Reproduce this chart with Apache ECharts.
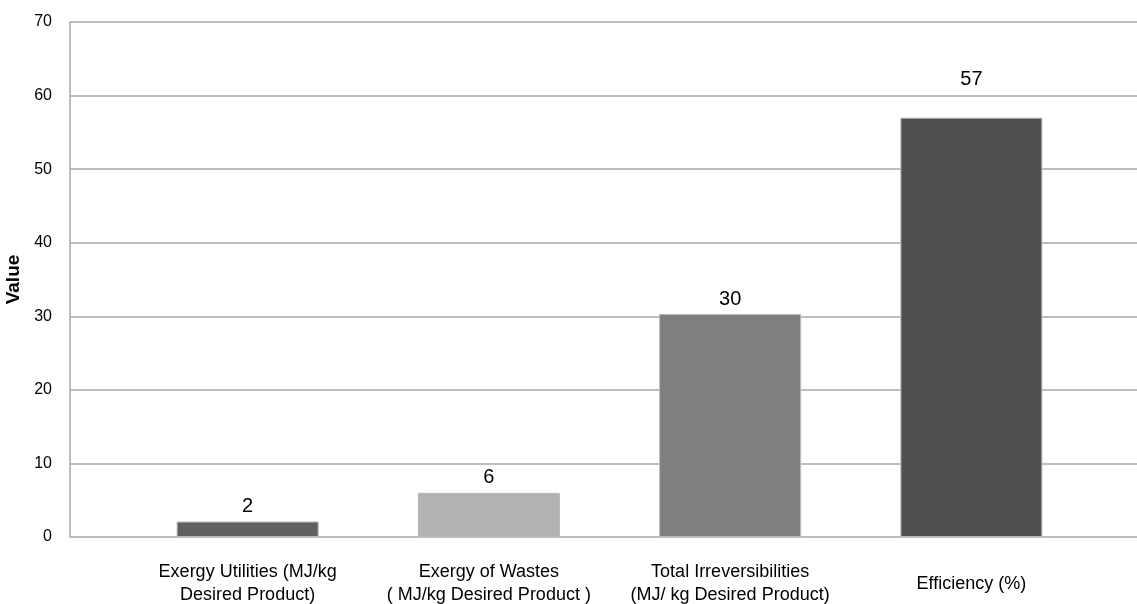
<!DOCTYPE html>
<html>
<head>
<meta charset="utf-8">
<script src="https://cdn.jsdelivr.net/npm/echarts@6/dist/echarts.min.js"></script>
<style>
html,body{margin:0;padding:0;background:#fff;}
#chart{width:1137px;height:604px;}
</style>
</head>
<body>
<div id="chart"></div>
<script>
const categories = [
  'Exergy Utilities (MJ/kg\nDesired Product)',
  'Exergy of Wastes\n( MJ/kg Desired Product )',
  'Total Irreversibilities\n(MJ/ kg Desired Product)',
  'Efficiency (%)'
];
const values = [2.1, 6.0, 30.3, 57.0];
const barColors = ['#606060', '#b2b2b2', '#7f7f7f', '#505050'];
const yTicks = [0, 10, 20, 30, 40, 50, 60, 70];

const chart = echarts.init(document.getElementById('chart'), null, {renderer: 'canvas'});
const axisFont = '"Liberation Sans", Arial, sans-serif';
const labelFont = '"Liberation Sans Narrow", "Liberation Sans", Arial, sans-serif';

chart.setOption({
  animation: false,
  backgroundColor: '#ffffff',
  grid: [
    {left: 70, right: 0, top: 22, bottom: 67, outerBoundsMode: 'none', containLabel: false},
    {left: 127, right: 45, top: 22, bottom: 67, outerBoundsMode: 'none', containLabel: false}
  ],
  xAxis: [
    {gridIndex: 0, type: 'value', min: 0, max: 1, show: false},
    {
      gridIndex: 1, type: 'category',
      data: categories.map(c => c.indexOf('\n') < 0
        ? {value: c, textStyle: {verticalAlign: 'middle', padding: [0, 0, 10, 0]}}
        : c),
      axisLine: {show: false}, axisTick: {show: false},
      axisLabel: {
        interval: 0, color: '#000', fontFamily: axisFont, fontSize: 18,
        lineHeight: 23, verticalAlign: 'middle', margin: 47
      }
    }
  ],
  yAxis: [
    {
      gridIndex: 0, type: 'value', min: yTicks[0], max: yTicks[yTicks.length - 1], interval: 10,
      name: 'Value', nameLocation: 'middle', nameRotate: 90, nameGap: 43,
      nameTextStyle: {fontFamily: axisFont, fontSize: 19, fontWeight: 'bold', color: '#000'},
      axisLine: {show: true, lineStyle: {color: '#a8a8a8', width: 1.5}},
      axisTick: {show: false},
      axisLabel: {color: '#000', fontFamily: axisFont, fontSize: 16, margin: 18},
      splitLine: {show: true, lineStyle: {color: '#a8a8a8', width: 1.5}}
    },
    {
      gridIndex: 1, type: 'value', min: yTicks[0], max: yTicks[yTicks.length - 1], interval: 10,
      show: false, splitLine: {show: false}
    }
  ],
  series: [{
    type: 'bar',
    xAxisIndex: 1, yAxisIndex: 1,
    barWidth: 142,
    data: values.map((v, i) => ({
      value: v,
      itemStyle: {color: barColors[i]},
      label: i === 3 ? {offset: [0, -23]} : {}
    })),
    itemStyle: {borderColor: '#b8b8b8', borderWidth: 1},
    label: {
      show: true, position: 'top', distance: 5,
      formatter: p => String(Math.round(p.value)),
      fontFamily: labelFont, fontSize: 20, color: '#000'
    }
  }]
});
</script>
</body>
</html>
